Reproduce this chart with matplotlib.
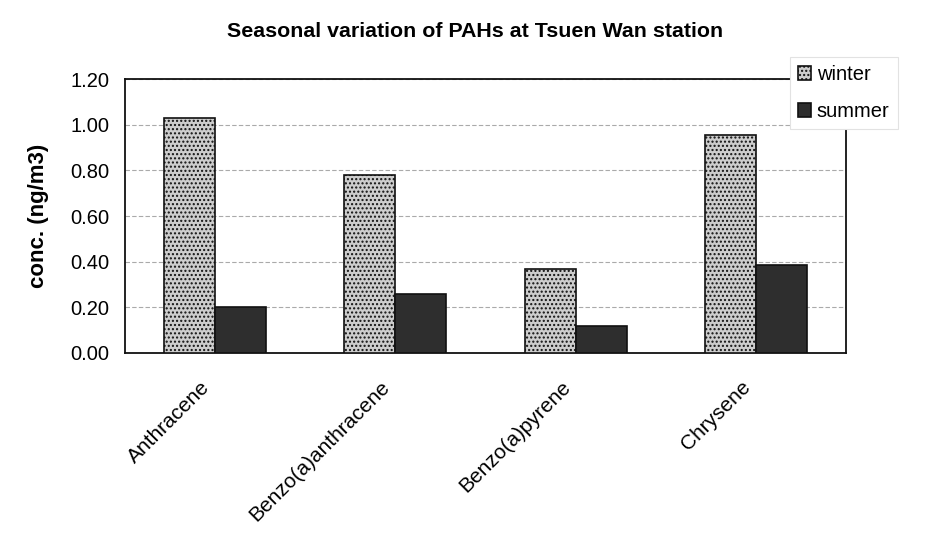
import numpy as np
import matplotlib.pyplot as plt
from matplotlib.transforms import ScaledTranslation

plt.rcParams['font.family'] = ['Liberation Sans', 'DejaVu Sans']
plt.rcParams['hatch.color'] = '#a8a8a8'

compounds = ['Anthracene', 'Benzo(a)anthracene', 'Benzo(a)pyrene', 'Chrysene']
winter = [1.03, 0.78, 0.37, 0.955]
summer = [0.20, 0.26, 0.12, 0.385]
yticks = [0.0, 0.2, 0.4, 0.6, 0.8, 1.0, 1.2]

fig = plt.figure(figsize=(9.28, 5.4), dpi=100, facecolor='#FFFFFF')
ax = fig.add_axes([0.1347, 0.3463, 0.7769, 0.5074])

x = np.arange(len(compounds))
w = 0.283
ax.bar(x - w/2, winter, w, color='#cdcdcd', edgecolor='#111111', linewidth=1.2,
       hatch='....', label='winter', zorder=3)
ax.bar(x + w/2, summer, w, color='#2e2e2e', edgecolor='#111111', linewidth=1.2,
       label='summer', zorder=3)

ax.set_xlim(-0.5, len(compounds) - 0.5)
ax.set_ylim(0, 1.2)
ax.set_yticks(yticks)
ax.set_yticklabels([f'{v:.2f}' for v in yticks], fontsize=14.5)
ax.tick_params(axis='y', length=0, pad=11)
ax.tick_params(axis='x', length=0, pad=6)
ax.set_xticks(x)
ax.set_xticklabels(compounds, rotation=45, ha='right', rotation_mode='anchor', fontsize=15)
shift = ScaledTranslation(-0.15, -0.16, fig.dpi_scale_trans)
for lbl in ax.get_xticklabels():
    lbl.set_transform(lbl.get_transform() + shift)
ax.grid(axis='y', color='#aaaaaa', linestyle=(0, (4, 2)), linewidth=0.8, zorder=0)
for s in ax.spines.values():
    s.set_color('#111111')
    s.set_linewidth(1.3)

ax.set_ylabel('conc. (ng/m3)', fontsize=16, fontweight='bold')
ax.yaxis.set_label_coords(-0.105, 0.5)
ax.set_title('Seasonal variation of PAHs at Tsuen Wan station', fontsize=15.4,
             fontweight='bold', x=0.486, pad=30)

leg = ax.legend(loc='upper left', bbox_to_anchor=(0.922, 1.08), fontsize=14.5,
                handlelength=0.65, handleheight=0.65, handletextpad=0.3,
                labelspacing=0.9, borderpad=0.4, borderaxespad=0,
                fancybox=False, framealpha=1)
leg.get_frame().set_edgecolor('#e2e2e2')
leg.get_frame().set_linewidth(0.8)
leg.set_zorder(5)

plt.savefig('out.png', dpi=100)
